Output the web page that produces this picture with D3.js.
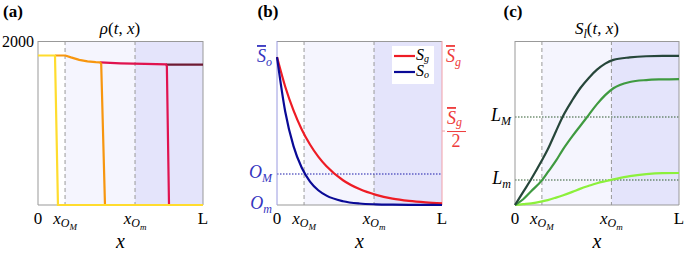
<!DOCTYPE html>
<html><head><meta charset="utf-8">
<script src="https://cdn.jsdelivr.net/npm/d3@7"></script>
<style>
body{margin:0;background:#fff}
svg text{font-family:"Liberation Serif","DejaVu Serif",serif !important}
</style></head>
<body><svg id="c" width="685" height="253" font-family="Liberation Serif, DejaVu Serif, serif"></svg>
<script>
// ---------- data ----------
const xMarks = [0.164, 0.588];            // x_OM, x_Om as fraction of L
// panel (a) rho(t,x) profiles [x, rho]
const rhoYellow = [[0,1823],[0.103,1823],[0.121,0],[1,0]];
const rhoOrange = [[0.103,1823],[0.165,1823],[0.2,1800],[0.25,1770],[0.3,1752],[0.35,1743],[0.376,1740],[0.383,1720],[0.406,0]];
const rhoRed    = [[0.376,1740],[0.5,1728],[0.65,1720],[0.776,1715],[0.781,1690],[0.794,0]];
const rhoDark   = [[0.776,1713],[1,1713]];
// panel (b) S_g, S_o
const bX  = [0,0.05,0.1,0.15,0.2,0.25,0.3,0.4,0.5,0.6,0.7,0.8,0.9,1];
const sG  = [0.902,0.721,0.577,0.461,0.369,0.295,0.236,0.151,0.097,0.062,0.039,0.025,0.016,0.010];
const sO  = [0.902,0.569,0.359,0.227,0.143,0.090,0.057,0.023,0.009,0.004,0.002,0.001,0.0005,0];
const oLevels = {OM:0.189, Om:0};
// panel (c) S_l
const cX    = [0,0.05,0.1,0.165,0.2,0.25,0.29,0.35,0.4,0.45,0.5,0.55,0.6,0.7,0.8,0.9,1];
const slDark= [0,0.08,0.16,0.274,0.34,0.45,0.537,0.64,0.715,0.775,0.825,0.862,0.885,0.90,0.907,0.909,0.909];
const slMid = [0,0.035,0.085,0.152,0.2,0.27,0.335,0.42,0.485,0.55,0.615,0.67,0.712,0.75,0.762,0.766,0.768];
const slLite= [0,0.005,0.01,0.022,0.03,0.045,0.058,0.08,0.1,0.117,0.133,0.145,0.156,0.176,0.188,0.194,0.195];
const lLevels = {LM:0.537, Lm:0.152};

const FF="Liberation Serif, DejaVu Serif, serif";
const svg = d3.select("#c");
const top0=41, bot0=205;
const T=(sel)=>sel.append("text").attr("font-family",FF);

function panel(x0,x1,yDomain){
  const x=d3.scaleLinear().domain([0,1]).range([x0,x1]);
  const y=d3.scaleLinear().domain(yDomain).range([bot0,top0]);
  const g=svg.append("g");
  g.append("rect").attr("x",x(xMarks[0])).attr("y",top0).attr("width",x(xMarks[1])-x(xMarks[0])).attr("height",bot0-top0).attr("fill","#f5f5fe");
  g.append("rect").attr("x",x(xMarks[1])).attr("y",top0).attr("width",x(1)-x(xMarks[1])).attr("height",bot0-top0).attr("fill","#e4e4fb");
  xMarks.forEach(m=>g.append("line").attr("x1",x(m)).attr("x2",x(m)).attr("y1",top0).attr("y2",bot0)
     .attr("stroke","#999").attr("stroke-width",1).attr("stroke-dasharray","4,3"));
  return {x,y,g};
}
function frame(p,left="#999",right="#999"){
  const {x,g}=p;
  g.append("line").attr("x1",x(0)).attr("x2",x(1)).attr("y1",top0+0.5).attr("y2",top0+0.5).attr("stroke","#999");
  g.append("line").attr("x1",x(0)).attr("x2",x(1)).attr("y1",bot0).attr("y2",bot0).attr("stroke","#999");
  g.append("line").attr("x1",x(0)).attr("x2",x(0)).attr("y1",top0).attr("y2",bot0).attr("stroke",left);
  g.append("line").attr("x1",x(1)).attr("x2",x(1)).attr("y1",top0).attr("y2",bot0).attr("stroke",right);
}
function xAxis(p){
  const {x,g}=p;
  const ax=g.append("g").attr("transform",`translate(0,${bot0})`)
    .call(d3.axisBottom(x).tickValues([0,xMarks[0],xMarks[1],1]).tickSize(0).tickFormat(""));
  ax.select(".domain").remove();
  const ty=bot0+19;
  T(g).attr("x",x(0)).attr("y",ty).attr("text-anchor","middle").attr("font-size",17).text("0");
  T(g).attr("x",x(1)).attr("y",ty).attr("text-anchor","middle").attr("font-size",17).text("L");
  [["M",xMarks[0]],["m",xMarks[1]]].forEach(([s,v])=>{
    const t=T(g).attr("x",x(v)).attr("y",ty).attr("text-anchor","middle").attr("font-size",17).attr("font-style","italic");
    t.append("tspan").text("x");
    t.append("tspan").attr("font-size",12).attr("dy",3).text("O");
    t.append("tspan").attr("font-size",9).attr("dy",3).text(s);
  });
  T(g).attr("x",(x(0)+x(1))/2).attr("y",bot0+43).attr("text-anchor","middle").attr("font-size",20).attr("font-style","italic").text("x");
}
function label(txt,cx){
  T(svg).attr("x",cx).attr("y",17).attr("font-size",17).attr("font-weight","bold").attr("text-anchor","middle").text(txt);
}
const line=(p)=>d3.line().x(d=>p.x(d[0])).y(d=>p.y(d[1]));

// ---------- panel (a) ----------
const A=panel(38,203,[0,2000]);
frame(A);
[[rhoDark,"#6e1a33"],[rhoRed,"#e0134f"],[rhoOrange,"#f7960f"],[rhoYellow,"#ffdc2e"]].forEach(([d,c])=>
  A.g.append("path").datum(d).attr("d",line(A)).attr("fill","none").attr("stroke",c).attr("stroke-width",2.2));
xAxis(A);
T(svg).attr("x",34).attr("y",47).attr("text-anchor","end").attr("font-size",16).text("2000");
{const t=T(svg).attr("x",120).attr("y",34).attr("text-anchor","middle").attr("font-size",17).attr("font-style","italic");
 t.append("tspan").text("ρ"); t.append("tspan").attr("font-style","normal").text("("); t.append("tspan").text("t");
 t.append("tspan").attr("font-style","normal").text(", "); t.append("tspan").text("x"); t.append("tspan").attr("font-style","normal").text(")");}
label("(a)",13);

// ---------- panel (b) ----------
const B=panel(277,442,[0,1]);
const bl=d3.line().x((d,i)=>B.x(bX[i])).y(d=>B.y(d)).curve(d3.curveMonotoneX);
B.g.append("line").attr("x1",B.x(0)).attr("x2",B.x(1)).attr("y1",B.y(oLevels.OM)).attr("y2",B.y(oLevels.OM))
  .attr("stroke","#1a1aaa").attr("stroke-width",1.2).attr("stroke-dasharray","1.5,1.5");
frame(B,"#9a9ae0","#f2a0a8");
B.g.append("path").datum(sG).attr("d",bl).attr("fill","none").attr("stroke","#ee1c25").attr("stroke-width",2.2);
B.g.append("path").datum(sO).attr("d",bl).attr("fill","none").attr("stroke","#0a0a96").attr("stroke-width",2.2);
xAxis(B);
function barS(t,sub,dy=4){
  t.append("tspan").attr("font-style","italic").style("text-decoration","overline").text("S");
  t.append("tspan").attr("font-style","italic").attr("font-size",12).attr("dy",dy).text(sub);
}
{const t=T(svg).attr("x",272).attr("y",B.y(sG[0])+5).attr("text-anchor","end").attr("font-size",18).attr("fill","#3535c0"); barS(t,"o");}
[["M",oLevels.OM],["m",oLevels.Om]].forEach(([s,v])=>{
  const t=T(svg).attr("x",272).attr("y",B.y(v)+4).attr("text-anchor","end").attr("font-size",18).attr("fill","#3535c0").attr("font-style","italic");
  t.append("tspan").text("O"); t.append("tspan").attr("font-size",12).attr("dy",4).text(s);
});
{const t=T(svg).attr("x",446).attr("y",B.y(sG[0])+5).attr("font-size",18).attr("fill","#ee3a3a"); barS(t,"g");}
{const yh=B.y(sG[0]/2);
 svg.append("line").attr("x1",442).attr("x2",445).attr("y1",yh).attr("y2",yh).attr("stroke","#f2a0a8");
 const t=T(svg).attr("x",447).attr("y",yh-7).attr("font-size",18).attr("fill","#ee3a3a"); barS(t,"g",2);
 svg.append("line").attr("x1",447).attr("x2",466).attr("y1",yh+0.5).attr("y2",yh+0.5).attr("stroke","#ee3a3a").attr("stroke-width",1);
 T(svg).attr("x",456).attr("y",yh+16).attr("text-anchor","middle").attr("font-size",18).attr("fill","#ee3a3a").text("2");}
{const lg=svg.append("g");
 lg.append("rect").attr("x",392).attr("y",46).attr("width",42).attr("height",38).attr("fill","#fff");
 [["g","#ee1c25",56],["o","#0a0a96",72]].forEach(([s,c,yy])=>{
   lg.append("line").attr("x1",394).attr("x2",415).attr("y1",yy).attr("y2",yy).attr("stroke",c).attr("stroke-width",2.2);
   const t=T(lg).attr("x",416).attr("y",yy+4).attr("font-size",16).attr("font-style","italic");
   t.append("tspan").text("S"); t.append("tspan").attr("font-size",10).attr("dy",2).text(s);
 });}
label("(b)",268);

// ---------- panel (c) ----------
const C=panel(515,679,[0,1]);
const cl=d3.line().x((d,i)=>C.x(cX[i])).y(d=>C.y(d)).curve(d3.curveMonotoneX);
[lLevels.LM,lLevels.Lm].forEach(v=>C.g.append("line").attr("x1",C.x(0)).attr("x2",C.x(1)).attr("y1",C.y(v)).attr("y2",C.y(v))
  .attr("stroke","#2e5a2e").attr("stroke-width",1.1).attr("stroke-dasharray","1.5,1.5"));
frame(C);
[[slLite,"#8cf03c"],[slMid,"#3f9a40"],[slDark,"#26463a"]].forEach(([d,c])=>
  C.g.append("path").datum(d).attr("d",cl).attr("fill","none").attr("stroke",c).attr("stroke-width",2.2));
xAxis(C);
[["M",lLevels.LM],["m",lLevels.Lm]].forEach(([s,v])=>{
  const t=T(svg).attr("x",511).attr("y",C.y(v)+4).attr("text-anchor","end").attr("font-size",18).attr("font-style","italic");
  t.append("tspan").text("L"); t.append("tspan").attr("font-size",12).attr("dy",4).text(s);
});
{const t=T(svg).attr("x",597).attr("y",34).attr("text-anchor","middle").attr("font-size",17).attr("font-style","italic");
 t.append("tspan").text("S"); t.append("tspan").attr("font-size",12).attr("dy",4).text("l");
 t.append("tspan").attr("dy",-4).attr("font-style","normal").text("("); t.append("tspan").text("t");
 t.append("tspan").attr("font-style","normal").text(", "); t.append("tspan").text("x"); t.append("tspan").attr("font-style","normal").text(")");}
label("(c)",513);
</script></body></html>
